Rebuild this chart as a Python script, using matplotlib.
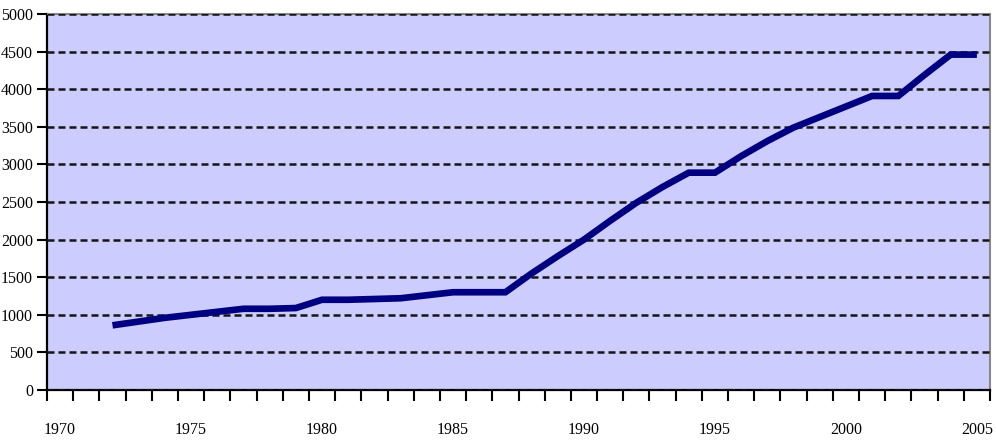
import numpy as np
import matplotlib
matplotlib.use('Agg')
import matplotlib.pyplot as plt
from matplotlib.ticker import FixedLocator

# Data
years = [1972, 1973, 1974, 1975, 1976, 1977, 1978, 1979, 1980, 1981,
         1982, 1983, 1984, 1985, 1986, 1987, 1988, 1989, 1990, 1991,
         1992, 1993, 1994, 1995, 1996, 1997, 1998, 1999, 2000, 2001,
         2002, 2003, 2004, 2005]
values = [860, 910, 960, 1000, 1040, 1080, 1080, 1090, 1200, 1200,
          1210, 1220, 1260, 1300, 1300, 1300, 1550, 1780, 2000, 2250,
          2490, 2700, 2890, 2890, 3110, 3310, 3490, 3630, 3770, 3910,
          3910, 4190, 4460, 4460]
label_years = [1970, 1975, 1980, 1985, 1990, 1995, 2000, 2005]
y_ticks = list(range(0, 5001, 500))

plt.rcParams['font.family'] = ['Liberation Serif', 'DejaVu Serif']

fig = plt.figure(figsize=(9.96, 4.4), dpi=100)
ax = fig.add_axes([47 / 996, 1 - 390 / 440, 943 / 996, 376 / 440])
ax.set_facecolor('#CCCCFF')

ax.plot(years, values, color='#000080', linewidth=4.8, solid_capstyle='butt',
        solid_joinstyle='miter', zorder=3)

ax.set_xlim(1969.5, 2005.5)
ax.set_ylim(0, 5000)

# y grid as dashed black lines
ax.set_yticks(y_ticks)
ax.yaxis.grid(True, color='#151515', linestyle=(0, (2.8, 1.6)), linewidth=1.8)
ax.set_axisbelow(False)
for gl in ax.get_ygridlines():
    gl.set_zorder(2)

# category axis: ticks on boundaries, labels centred in categories
ax.set_xticks(label_years)
ax.set_xticklabels([str(y) for y in label_years])
ax.xaxis.set_minor_locator(FixedLocator(np.arange(1969.5, 2006, 1)))
ax.tick_params(axis='x', which='major', length=0, pad=23, labelsize=11.5)
ax.tick_params(axis='x', which='minor', length=8, width=1.5, direction='out')
ax.tick_params(axis='y', which='major', length=7, width=1.5, direction='out',
               pad=3, labelsize=11.5)

ax.spines['left'].set_color('black')
ax.spines['left'].set_linewidth(1.6)
ax.spines['bottom'].set_color('black')
ax.spines['bottom'].set_linewidth(1.6)
ax.spines['top'].set_color('#888888')
ax.spines['top'].set_linewidth(1.5)
ax.spines['right'].set_color('#888888')
ax.spines['right'].set_linewidth(1.5)

fig.savefig('out.png', dpi=100)
